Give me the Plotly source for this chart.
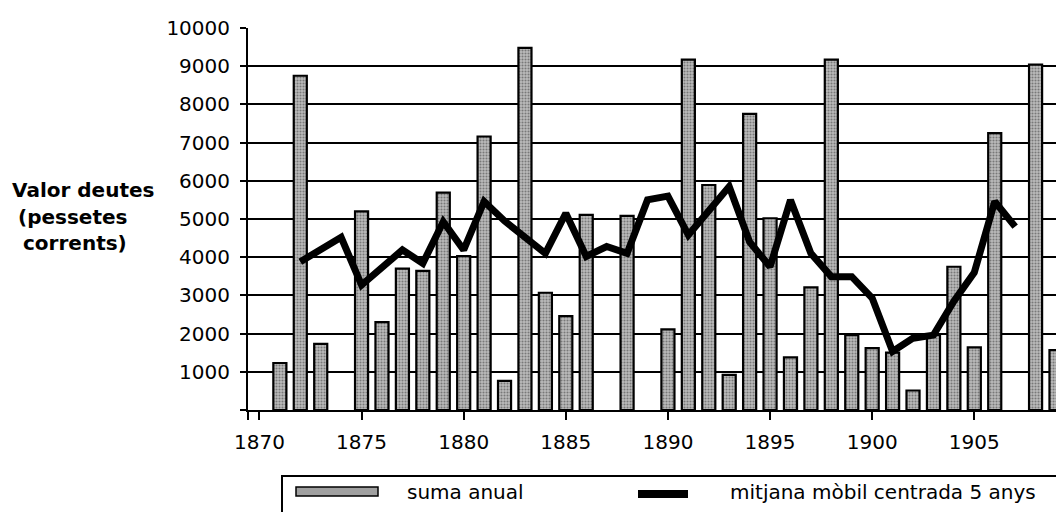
import plotly.graph_objects as go

# ---------------- data ----------------
bar_years = [1871, 1872, 1873, 1875, 1876, 1877, 1878, 1879, 1880, 1881, 1882,
             1883, 1884, 1885, 1886, 1888, 1890, 1891, 1892, 1893, 1894, 1895,
             1896, 1897, 1898, 1899, 1900, 1901, 1902, 1903, 1904, 1905, 1906,
             1908, 1909]
suma_anual = [1230, 8750, 1730, 5200, 2300, 3700, 3640, 5690, 4030, 7160, 760,
              9480, 3070, 2460, 5110, 5080, 2110, 9170, 5890, 920, 7750, 5020,
              1380, 3210, 9170, 1960, 1620, 1500, 510, 1960, 3750, 1640, 7250,
              9040, 1570]

ma_years = list(range(1872, 1908))
mitjana_mobil = [3880, 4200, 4520, 3270, 3750, 4190, 3840, 4930, 4190, 5460,
                 4950, 4550, 4100, 5150, 4020, 4280, 4100, 5500, 5600, 4580,
                 5240, 5850, 4400, 3750, 5500, 4100, 3490, 3490, 2930, 1530,
                 1880, 1960, 2850, 3600, 5460, 4800]

x_tick_years = [1870, 1875, 1880, 1885, 1890, 1895, 1900, 1905]
y_tick_vals = [0, 1000, 2000, 3000, 4000, 5000, 6000, 7000, 8000, 9000, 10000]
y_tick_text = ["", "1000", "2000", "3000", "4000", "5000", "6000", "7000",
               "8000", "9000", "10000"]

y_title_lines = ["Valor deutes", "(pessetes", "corrents)"]
legend_labels = ["suma anual", "mitjana mòbil centrada 5 anys"]

x_range = [1869.44, 1909.0]
y_range = [0, 10000]

# ---------------- layout geometry ----------------
W, H = 1056, 512
M_L, M_R, M_T, M_B = 248, 0, 28, 102
PW = W - M_L - M_R
PH = H - M_T - M_B

FONT = "DejaVu Sans"


def px(x):
    return (x - M_L) / PW


def py(y):
    return (H - M_B - y) / PH


fig = go.Figure()

fig.add_trace(go.Bar(
    x=bar_years, y=suma_anual, name=legend_labels[0],
    width=0.64,
    marker=dict(
        color="#b0b0b0",
        line=dict(color="black", width=2.2),
        pattern=dict(shape=".", fgcolor="#333333", bgcolor="#bcbcbc",
                     size=3, solidity=0.4),
    ),
    showlegend=False,
))

fig.add_trace(go.Scatter(
    x=ma_years, y=mitjana_mobil, name=legend_labels[1],
    mode="lines", line=dict(color="black", width=7),
    showlegend=False,
))

fig.update_layout(
    width=W, height=H,
    margin=dict(l=M_L, r=M_R, t=M_T, b=M_B, pad=0),
    paper_bgcolor="white", plot_bgcolor="white",
    font=dict(family=FONT, size=20, color="black"),
    bargap=0.3,
)

fig.update_xaxes(
    range=x_range, tickmode="array",
    tickvals=[x_range[0]] + x_tick_years,
    ticktext=[""] + [str(v) for v in x_tick_years],
    ticks="outside", ticklen=8, tickwidth=2, tickcolor="black",
    showline=True, linecolor="black", linewidth=2,
    showgrid=False, zeroline=False,
    ticklabelstandoff=5,
    tickfont=dict(family=FONT, size=20, color="black"),
)

fig.update_yaxes(
    range=y_range, tickmode="array",
    tickvals=y_tick_vals, ticktext=y_tick_text,
    ticks="outside", ticklen=6, tickwidth=2, tickcolor="black",
    showline=True, linecolor="black", linewidth=2,
    showgrid=True, gridcolor="black", gridwidth=2,
    zeroline=False,
    ticklabelstandoff=6,
    tickfont=dict(family=FONT, size=20, color="black"),
)

# y-axis title (three lines)
title_pos = [(83, 190), (72, 217), (75, 243)]
for text, (tx, ty) in zip(y_title_lines, title_pos):
    fig.add_annotation(
        x=px(tx), y=py(ty), xref="paper", yref="paper",
        text=f"<b>{text}</b>", showarrow=False,
        xanchor="center", yanchor="middle",
        font=dict(family=FONT, size=20, color="black"),
    )

# legend box (drawn manually)
fig.add_shape(type="rect", xref="paper", yref="paper",
              x0=px(282), x1=px(1070), y0=py(476), y1=py(530),
              line=dict(color="black", width=2), fillcolor="white")
fig.add_shape(type="rect", xref="paper", yref="paper",
              x0=px(296), x1=px(378), y0=py(487), y1=py(496),
              line=dict(color="black", width=1.5), fillcolor="#a0a0a0")
fig.add_shape(type="line", xref="paper", yref="paper",
              x0=px(638), x1=px(688), y0=py(494), y1=py(494),
              line=dict(color="black", width=8))
fig.add_annotation(x=px(405), y=py(492), xref="paper", yref="paper",
                   text=legend_labels[0], showarrow=False,
                   xanchor="left", yanchor="middle",
                   font=dict(family=FONT, size=20, color="black"))
fig.add_annotation(x=px(728), y=py(492), xref="paper", yref="paper",
                   text=legend_labels[1], showarrow=False,
                   xanchor="left", yanchor="middle",
                   font=dict(family=FONT, size=20, color="black"))

fig.write_html("out.html",
               config={"displayModeBar": False},
               post_script="document.body.style.margin='0';"
                           "document.body.style.overflow='hidden';")
